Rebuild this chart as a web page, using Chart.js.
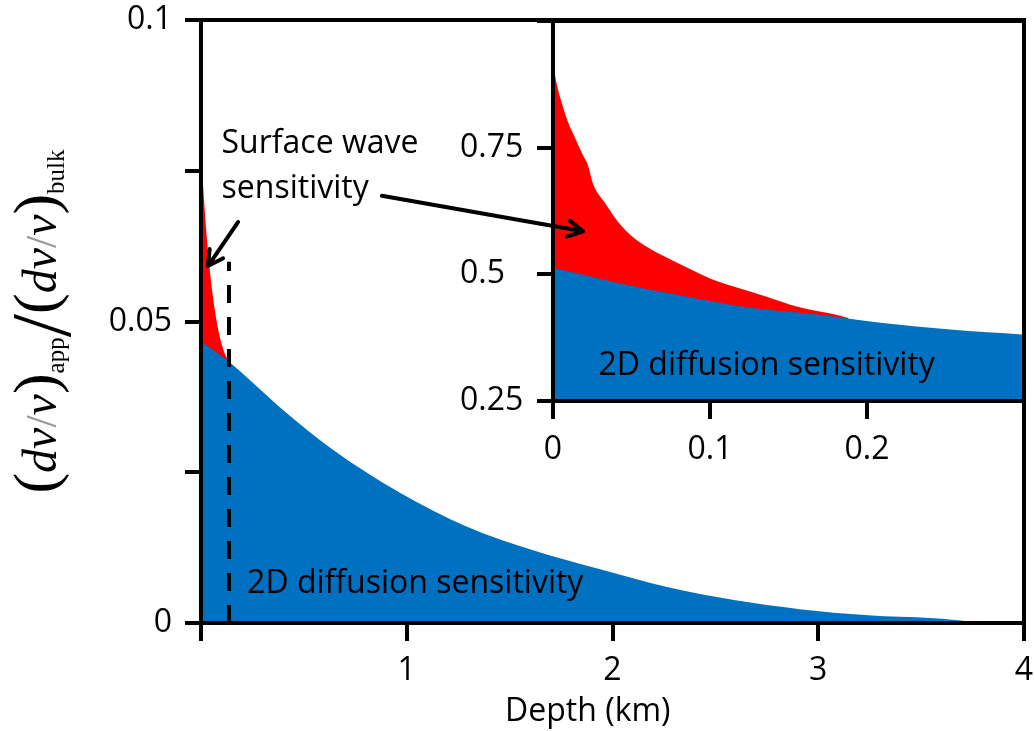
<!DOCTYPE html>
<html>
<head>
<meta charset="utf-8">
<script src="https://cdn.jsdelivr.net/npm/chart.js@4.4.0/dist/chart.umd.min.js"></script>
<style>
  body { margin: 0; background: #fff; }
  #wrap { position: relative; width: 1034px; height: 731px; }
  #mainChart { position: absolute; left: 0; top: 0; }
  #insetChart { position: absolute; left: 360px; top: 0; }
</style>
</head>
<body>
<div id="wrap">
  <canvas id="mainChart" width="1034" height="731"></canvas>
  <canvas id="insetChart" width="674" height="470"></canvas>
</div>
<script>
// main panel: depth (km) vs normalised sensitivity
const mainDepth = [0, 0.133, 0.40, 0.643, 0.967, 1.29, 1.61, 1.94, 2.26, 2.59, 2.91, 3.24, 3.56, 3.72, 3.76, 4.0];
const mainDiffusion = [0.0467, 0.0434, 0.0353, 0.0287, 0.0216, 0.0160, 0.0121, 0.0089, 0.0060, 0.0038, 0.0023, 0.0013, 0.0008, 0.0003, 0, 0];
const mainSurfaceDepth = [0, 0.003, 0.011, 0.024, 0.041, 0.06, 0.084, 0.109, 0.133];
const mainSurface = [0.0760, 0.0758, 0.0721, 0.0657, 0.0591, 0.0536, 0.0486, 0.0453, 0.0434];
const cutDepth = [0.136, 0.136];
const cutValue = [0, 0.0599];

const mainXTicks = [0, 1, 2, 3, 4];
const mainXLabels = ['', '1', '2', '3', '4'];
const mainYTicks = [0, 0.025, 0.05, 0.075, 0.1];
const mainYLabels = ['0', '', '0.05', '', '0.1'];

// inset: zoom on the top 0.3 km
const insetDiffDepth = [0, 0.0406, 0.083, 0.1255, 0.168, 0.210, 0.253, 0.3];
const insetDiffusion = [0.513, 0.4835, 0.457, 0.434, 0.4206, 0.404, 0.391, 0.381];
const insetSurfDepth = [0, 0.0021, 0.0053, 0.0095, 0.0148, 0.0191, 0.0223, 0.0255, 0.0329, 0.0435, 0.0541, 0.0711, 0.083, 0.100, 0.115, 0.136, 0.157, 0.179, 0.188];
const insetSurface = [0.920, 0.880, 0.841, 0.801, 0.764, 0.735, 0.715, 0.679, 0.642, 0.596, 0.566, 0.535, 0.517, 0.492, 0.476, 0.456, 0.435, 0.421, 0.414];

const insetXTicks = [0, 0.1, 0.2, 0.3];
const insetXLabels = ['0', '0.1', '0.2', ''];
const insetYTicks = [0.25, 0.5, 0.75, 1];
const insetYLabels = ['0.25', '0.5', '0.75', ''];

const RED = '#FF0000';
const BLUE = '#0070C0';
const FONT = '"Open Sans", sans-serif';

Chart.defaults.font.family = FONT;
Chart.defaults.color = '#000';

function pts(xs, ys) {
    return xs.map((x, i) => ({ x: x, y: ys[i] }));
}

function area(xs, ys, colour) {
    return {
        data: pts(xs, ys),
        backgroundColor: colour,
        borderColor: colour,
        borderWidth: 0,
        pointRadius: 0,
        fill: 'start',
        cubicInterpolationMode: 'monotone'
    };
}

// fixed axis box size, no extra room for half labels
function fixSize(key, size) {
    return s => {
        s[key] = size;
        s.paddingTop = 0;
        s.paddingBottom = 0;
        s.paddingLeft = 0;
        s.paddingRight = 0;
    };
}

function axis(ticks, labels, extra) {
    return Object.assign({
        type: 'linear',
        min: ticks[0],
        max: ticks[ticks.length - 1],
        afterBuildTicks: s => { s.ticks = ticks.map(v => ({ value: v })); },
        grid: { drawOnChartArea: false, drawTicks: true, tickLength: 16, lineWidth: 4, color: '#000' },
        border: { display: false },
        ticks: { font: { size: 32 }, color: '#000', autoSkip: false, maxRotation: 0,
                 callback: (v, i) => labels[i] }
    }, extra);
}

function drawArrow(ctx, x1, y1, x2, y2) {
    const a = Math.atan2(y2 - y1, x2 - x1);
    const h = 17;
    ctx.save();
    ctx.strokeStyle = '#000';
    ctx.lineWidth = 4;
    ctx.lineCap = 'round';
    ctx.lineJoin = 'round';
    ctx.beginPath();
    ctx.moveTo(x1, y1);
    ctx.lineTo(x2, y2);
    ctx.moveTo(x2 - h * Math.cos(a - 0.5), y2 - h * Math.sin(a - 0.5));
    ctx.lineTo(x2, y2);
    ctx.lineTo(x2 - h * Math.cos(a + 0.5), y2 - h * Math.sin(a + 0.5));
    ctx.stroke();
    ctx.restore();
}

const frame = {
    id: 'frame',
    afterDraw(chart) {
        const a = chart.chartArea, ctx = chart.ctx;
        ctx.save();
        ctx.strokeStyle = '#000';
        ctx.lineWidth = 4;
        ctx.strokeRect(a.left, a.top, a.right - a.left, a.bottom - a.top);
        ctx.restore();
    }
};

// y title: (dv/v)_app / (dv/v)_bulk
const titleParts = [
    ['(', '62px "Liberation Serif"', 0, '#000'],
    ['dv', 'italic 48px "Liberation Serif"', 0, '#000'],
    ['/', '44px "Liberation Serif"', 0, '#999'],
    ['v', 'italic 48px "Liberation Serif"', 0, '#000'],
    [')', '62px "Liberation Serif"', 0, '#000'],
    ['app', '25px "Liberation Serif"', 8, '#000'],
    ['/', '84px "Liberation Serif"', 14, '#000'],
    ['(', '62px "Liberation Serif"', 0, '#000'],
    ['dv', 'italic 48px "Liberation Serif"', 0, '#000'],
    ['/', '44px "Liberation Serif"', 0, '#999'],
    ['v', 'italic 48px "Liberation Serif"', 0, '#000'],
    [')', '62px "Liberation Serif"', 0, '#000'],
    ['bulk', '25px "Liberation Serif"', 8, '#000']
];

const mainText = {
    id: 'mainText',
    afterDraw(chart) {
        const ctx = chart.ctx, x = chart.scales.x, y = chart.scales.y;
        ctx.save();
        ctx.fillStyle = '#000';
        ctx.font = '32px ' + FONT;
        ctx.textBaseline = 'alphabetic';
        ctx.textAlign = 'left';
        ctx.fillText('Surface wave', x.getPixelForValue(0.1), y.getPixelForValue(0.0779));
        ctx.fillText('sensitivity', x.getPixelForValue(0.1), y.getPixelForValue(0.0704));
        ctx.fillText('2D diffusion sensitivity', x.getPixelForValue(0.224), y.getPixelForValue(0.005));
        ctx.textAlign = 'center';
        ctx.fillText('Depth (km)', x.getPixelForValue(1.88), 721);

        drawArrow(ctx, x.getPixelForValue(0.18), y.getPixelForValue(0.0665),
                       x.getPixelForValue(0.034), y.getPixelForValue(0.0592));

        // rotated y title
        ctx.translate(56, (chart.chartArea.top + chart.chartArea.bottom) / 2);
        ctx.rotate(-Math.PI / 2);
        ctx.textAlign = 'left';
        let total = 0;
        titleParts.forEach(p => { ctx.font = p[1]; total += ctx.measureText(p[0]).width; });
        let pos = -total / 2;
        titleParts.forEach(p => {
            ctx.font = p[1];
            ctx.fillStyle = p[3];
            ctx.fillText(p[0], pos, p[2]);
            pos += ctx.measureText(p[0]).width;
        });
        ctx.restore();
    }
};

new Chart(document.getElementById('mainChart'), {
    type: 'line',
    data: {
        datasets: [
            {
                data: pts(cutDepth, cutValue),
                borderColor: '#000',
                borderWidth: 4,
                borderDash: [18, 14],
                pointRadius: 0,
                fill: false,
                tension: 0
            },
            area(mainDepth, mainDiffusion, BLUE),
            area(mainSurfaceDepth, mainSurface, RED)
        ]
    },
    options: {
        responsive: false,
        animation: false,
        layout: { padding: { left: 0, right: 10, top: 20, bottom: 0 } },
        plugins: { legend: { display: false }, tooltip: { enabled: false } },
        scales: {
            x: axis(mainXTicks, mainXLabels, {
                position: 'bottom',
                afterFit: fixSize('height', 108)
            }),
            y: axis(mainYTicks, mainYLabels, {
                position: 'left',
                afterFit: fixSize('width', 201)
            })
        }
    },
    plugins: [frame, mainText]
});

// tick lengths / label paddings per axis
const mainChart = Chart.getChart('mainChart');
mainChart.options.scales.x.grid.tickLength = 18;
mainChart.options.scales.x.ticks.padding = 11;
mainChart.options.scales.y.ticks.padding = 13;
mainChart.update();

const insetText = {
    id: 'insetText',
    beforeDraw(chart) {
        const a = chart.chartArea, ctx = chart.ctx;
        ctx.save();
        ctx.fillStyle = '#fff';
        ctx.fillRect(a.left, a.top, a.right - a.left, a.bottom - a.top);
        ctx.restore();
    },
    afterDraw(chart) {
        const ctx = chart.ctx, x = chart.scales.x, y = chart.scales.y;
        ctx.save();
        ctx.fillStyle = '#000';
        ctx.font = '32px ' + FONT;
        ctx.textAlign = 'left';
        ctx.fillText('2D diffusion sensitivity', x.getPixelForValue(0.029), y.getPixelForValue(0.3016));
        drawArrow(ctx, x.getPixelForValue(-0.109), y.getPixelForValue(0.655),
                       x.getPixelForValue(0.0191), y.getPixelForValue(0.585));
        ctx.restore();
    }
};

new Chart(document.getElementById('insetChart'), {
    type: 'line',
    data: {
        datasets: [
            area(insetDiffDepth, insetDiffusion, BLUE),
            area(insetSurfDepth, insetSurface, RED)
        ]
    },
    options: {
        responsive: false,
        animation: false,
        layout: { padding: { left: 100, right: 10, top: 21, bottom: 0 } },
        plugins: { legend: { display: false }, tooltip: { enabled: false } },
        scales: {
            x: axis(insetXTicks, insetXLabels, {
                position: 'bottom',
                afterFit: fixSize('height', 69)
            }),
            y: axis(insetYTicks, insetYLabels, {
                position: 'left',
                afterFit: fixSize('width', 93)
            })
        }
    },
    plugins: [frame, insetText]
});

const insetChart = Chart.getChart('insetChart');
insetChart.options.scales.x.grid.tickLength = 18;
insetChart.options.scales.x.ticks.padding = 12;
insetChart.options.scales.y.ticks.crossAlign = 'far';
insetChart.update();
</script>
</body>
</html>
